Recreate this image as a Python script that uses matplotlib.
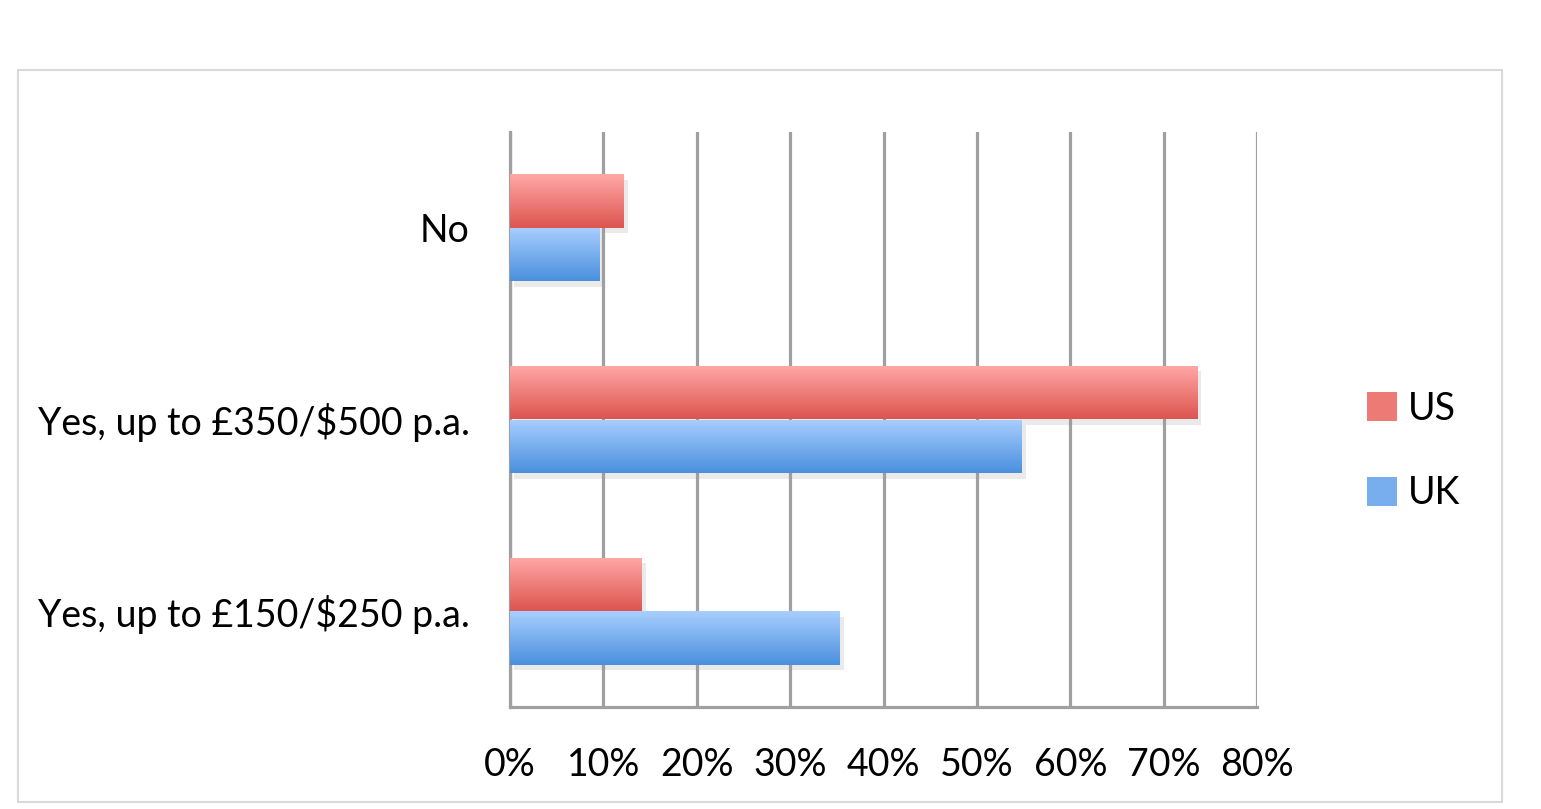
import numpy as np
import matplotlib
matplotlib.use("Agg")
import matplotlib.pyplot as plt
from matplotlib.patches import Rectangle, Patch
import matplotlib.patheffects as pe
from matplotlib.colors import LinearSegmentedColormap

categories = ["Yes, up to £150/$250 p.a.", "Yes, up to £350/$500 p.a.", "No"]
us_values = [14.1, 73.6, 12.2]
uk_values = [35.3, 54.8, 9.6]
ticks = [0, 10, 20, 30, 40, 50, 60, 70, 80]

plt.rcParams["font.family"] = ["Lato", "DejaVu Sans"]

W, H = 1541, 809
fig = plt.figure(figsize=(W / 100, H / 100), dpi=100)
ax = fig.add_axes([510 / W, (H - 707) / H, 747 / W, 575 / H])

# outer chart frame
fig.patches.append(Rectangle((18 / W, (H - 802) / H), 1484 / W, 732 / H,
                             transform=fig.transFigure, fill=False,
                             edgecolor="#D9D9D9", lw=1.5))

red_cmap = LinearSegmentedColormap.from_list("r", ["#DD5550", "#FFA8A5"])
blue_cmap = LinearSegmentedColormap.from_list("b", ["#4A90DD", "#A8CEFF"])
grad = np.linspace(0, 1, 64).reshape(-1, 1)

y = np.arange(len(categories))
h = 0.28


def gradient_bars(bars, cmap):
    for b in bars:
        b.set_path_effects([pe.SimplePatchShadow(offset=(3, -4), shadow_rgbFace="#999999", alpha=0.2),
                            pe.Normal()])
        x0, y0 = b.get_x(), b.get_y()
        im = ax.imshow(grad, cmap=cmap, aspect="auto", origin="lower",
                       extent=[x0, x0 + b.get_width(), y0, y0 + b.get_height()],
                       zorder=3)
        im.set_clip_path(b)


us_bars = ax.barh(y + h / 2, us_values, height=h, color="none", zorder=2.5)
uk_bars = ax.barh(y - h / 2, uk_values, height=h, color="none", zorder=2.5)
gradient_bars(us_bars, red_cmap)
gradient_bars(uk_bars, blue_cmap)

ax.set_xlim(0, 80)
ax.set_ylim(-0.5, len(categories) - 0.5)
ax.set_xticks(ticks)
ax.set_xticklabels([f"{t}%" for t in ticks], fontsize=27)
ax.set_yticks(y)
ax.set_yticklabels(categories, fontsize=27)
ax.tick_params(length=0)
ax.tick_params(axis="x", pad=29)
ax.tick_params(axis="y", pad=29)
ax.xaxis.grid(True, color="#A0A0A0", lw=2.3)
ax.set_axisbelow(True)
for s in ["top", "right"]:
    ax.spines[s].set_visible(False)
for s in ["left", "bottom"]:
    ax.spines[s].set_color("#A0A0A0")
    ax.spines[s].set_linewidth(2.3)

handles = [Patch(facecolor="#EE7A76", label="US"), Patch(facecolor="#78AEEE", label="UK")]
fig.legend(handles=handles, loc="center left", bbox_to_anchor=(1333 / W, (H - 451) / H),
           frameon=False, fontsize=27, handlelength=0.8, handleheight=0.8,
           handletextpad=0.3, labelspacing=1.3)

fig.savefig("out.png", dpi=100)
